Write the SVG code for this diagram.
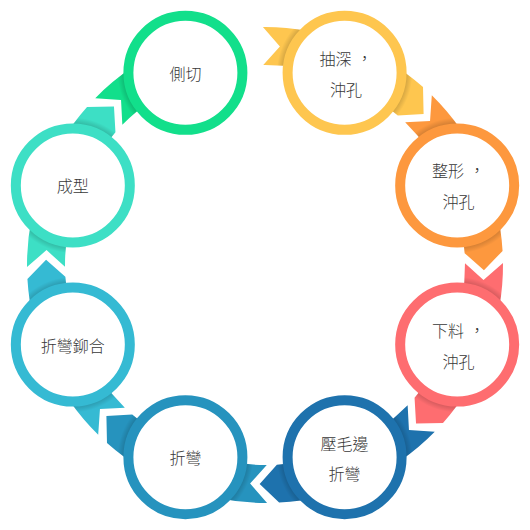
<svg xmlns="http://www.w3.org/2000/svg" xmlns:xlink="http://www.w3.org/1999/xlink" width="530" height="530" viewBox="0 0 530 530">
  <style>
    .ring { fill: #ffffff; stroke-width: 10; }
    .lbl { font-family: "Noto Sans CJK TC", "Noto Sans CJK SC", sans-serif; font-size: 16px; font-weight: 300; fill: #383838; text-anchor: middle; dominant-baseline: central; }
  </style>
  <defs>
    <path id="rib" d="M262.92,27.01 A238,238 0 0 1 423.01,87.02 L423.59,113.97 L397.78,115.44 A200,200 0 0 0 263.25,65.01 L279.90,46.51 Z"/>
    <path id="ribEnd" d="M262.92,27.01 A238,238 0 0 1 356.08,45.12 L341.54,80.22 A200,200 0 0 0 263.25,65.01 L279.90,46.51 Z"/>
    <clipPath id="ribclip"><use xlink:href="#rib"/></clipPath>
    <clipPath id="ribEndclip"><use xlink:href="#ribEnd"/></clipPath>
    <radialGradient id="sh" cx="0.5" cy="0.5" r="0.5">
      <stop offset="0.86" stop-color="#000000" stop-opacity="0.2"/>
      <stop offset="0.97" stop-color="#000000" stop-opacity="0"/>
    </radialGradient>
  </defs>
  <g id="connectors"/>
  <g id="n-choushen">
    <g transform="rotate(0 265 265)">
      <use xlink:href="#rib" fill="#FEC64F"/>
      <circle cx="344.6" cy="72.83" r="70" fill="url(#sh)" clip-path="url(#ribclip)"/>
      <circle class="ring" cx="344.6" cy="72.83" r="57" stroke="#FEC64F"/>
    </g>
    <text class="lbl" x="346" y="57.8">抽深<tspan dx="5" dy="-1">，</tspan></text>
    <text class="lbl" x="346" y="88.8">沖孔</text>
  </g>
  <g id="n-zhengxing">
    <g transform="rotate(45 265 265)">
      <use xlink:href="#rib" fill="#FD983E"/>
      <circle cx="344.6" cy="72.83" r="70" fill="url(#sh)" clip-path="url(#ribclip)"/>
      <circle class="ring" cx="344.6" cy="72.83" r="57" stroke="#FD983E"/>
    </g>
    <text class="lbl" x="458.6" y="170.4">整形<tspan dx="5" dy="-1">，</tspan></text>
    <text class="lbl" x="458.6" y="201.4">沖孔</text>
  </g>
  <g id="n-xialiao">
    <g transform="rotate(90 265 265)">
      <use xlink:href="#rib" fill="#FE6D70"/>
      <circle cx="344.6" cy="72.83" r="70" fill="url(#sh)" clip-path="url(#ribclip)"/>
      <circle class="ring" cx="344.6" cy="72.83" r="57" stroke="#FE6D70"/>
    </g>
    <text class="lbl" x="458.6" y="329.6">下料<tspan dx="5" dy="-1">，</tspan></text>
    <text class="lbl" x="458.6" y="360.6">沖孔</text>
  </g>
  <g id="n-yamaobian">
    <g transform="rotate(135 265 265)">
      <use xlink:href="#rib" fill="#1E72AD"/>
      <circle cx="344.6" cy="72.83" r="70" fill="url(#sh)" clip-path="url(#ribclip)"/>
      <circle class="ring" cx="344.6" cy="72.83" r="57" stroke="#1E72AD"/>
    </g>
    <text class="lbl" x="344.6" y="442.7">壓毛邊</text>
    <text class="lbl" x="344.6" y="472.7">折彎</text>
  </g>
  <g id="n-zhewan">
    <g transform="rotate(180 265 265)">
      <use xlink:href="#rib" fill="#2693BE"/>
      <circle cx="344.6" cy="72.83" r="70" fill="url(#sh)" clip-path="url(#ribclip)"/>
      <circle class="ring" cx="344.6" cy="72.83" r="57" stroke="#2693BE"/>
    </g>
    <text class="lbl" x="185.4" y="457.2">折彎</text>
  </g>
  <g id="n-zhewanmaohe">
    <g transform="rotate(225 265 265)">
      <use xlink:href="#rib" fill="#35BAD3"/>
      <circle cx="344.6" cy="72.83" r="70" fill="url(#sh)" clip-path="url(#ribclip)"/>
      <circle class="ring" cx="344.6" cy="72.83" r="57" stroke="#35BAD3"/>
    </g>
    <text class="lbl" x="72.8" y="344.6">折彎鉚合</text>
  </g>
  <g id="n-chengxing">
    <g transform="rotate(270 265 265)">
      <use xlink:href="#rib" fill="#3DDFC5"/>
      <circle cx="344.6" cy="72.83" r="70" fill="url(#sh)" clip-path="url(#ribclip)"/>
      <circle class="ring" cx="344.6" cy="72.83" r="57" stroke="#3DDFC5"/>
    </g>
    <text class="lbl" x="72.8" y="185.4">成型</text>
  </g>
  <g id="n-cechie">
    <g transform="rotate(-45 265 265)">
      <use xlink:href="#ribEnd" fill="#12DF8B"/>
      <circle cx="344.6" cy="72.83" r="70" fill="url(#sh)" clip-path="url(#ribEndclip)"/>
      <circle class="ring" cx="344.6" cy="72.83" r="57" stroke="#12DF8B"/>
    </g>
    <text class="lbl" x="185.4" y="72.8">側切</text>
  </g>
</svg>
